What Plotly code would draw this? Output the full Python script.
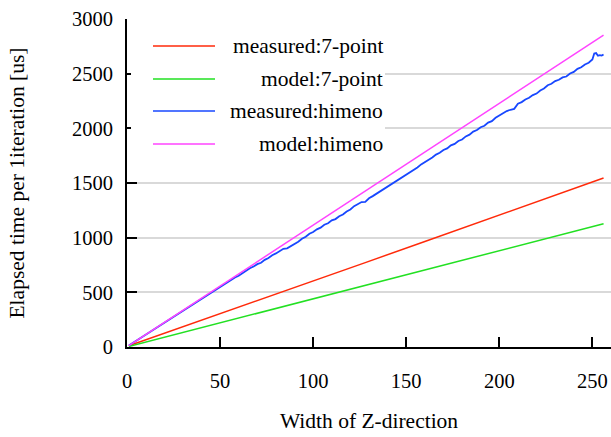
import plotly.graph_objects as go

# ---- data ----
meas7_x = [1, 32, 64, 96, 128, 160, 192, 224, 256]
meas7_y = [12, 196, 387, 580, 772, 965, 1160, 1352, 1545]

model7_x = [1, 64, 128, 192, 256]
model7_y = [5, 283, 565, 846, 1127]

measH_x = [1, 4, 8, 12, 16, 20, 24, 28, 32, 36, 40,
           42, 44, 46, 48, 50, 52, 54, 56, 58, 60, 62, 64, 66, 68, 70, 72, 74, 76, 78, 80,
           82, 84, 86, 88, 90, 92, 94, 96, 98, 100, 102, 104, 106, 108, 110, 112, 114, 116,
           118, 120, 122, 124, 126, 128, 130, 132, 134, 136, 138, 140, 142, 144, 146, 148,
           150, 152, 154, 156, 158, 160, 162, 164, 166, 168, 170, 172, 174, 176, 178, 180,
           182, 184, 186, 188, 190, 192, 194, 196, 198, 200, 202, 204, 206, 208, 210, 212,
           214, 216, 218, 220, 222, 224, 226, 228, 230, 232, 234, 236, 238, 240, 242, 244,
           246, 248, 250, 251, 252, 253, 254, 255, 256]
measH_y = [14, 46, 90, 134, 178, 221, 264, 309, 352, 396, 440,
           462, 482, 507, 526, 550, 569, 594, 614, 636, 652, 676, 694, 720, 736, 758, 770,
           797, 814, 840, 856, 880, 898, 903, 922, 944, 963, 990, 1008, 1036, 1052, 1076,
           1092, 1118, 1132, 1158, 1170, 1196, 1212, 1240, 1258, 1288, 1310, 1326, 1328,
           1360, 1380, 1402, 1418, 1446, 1464, 1492, 1508, 1536, 1552, 1580, 1598, 1624,
           1642, 1670, 1690, 1716, 1734, 1760, 1776, 1802, 1816, 1844, 1858, 1884, 1898,
           1926, 1942, 1970, 1984, 2010, 2024, 2052, 2066, 2096, 2116, 2142, 2158, 2170,
           2178, 2226, 2240, 2264, 2280, 2304, 2318, 2346, 2364, 2394, 2408, 2432, 2444,
           2466, 2474, 2502, 2516, 2544, 2558, 2584, 2600, 2630, 2684, 2688, 2664, 2670,
           2666, 2676]

modelH_x = [1, 64, 128, 192, 256]
modelH_y = [12, 714, 1427, 2140, 2852]

names = ["measured:7-point", "model:7-point", "measured:himeno", "model:himeno"]
colors = ["#ff2a0a", "#22e022", "#1747ff", "#ff44ff"]
widths = [1.5, 1.5, 1.8, 1.5]

x_ticks = [0, 50, 100, 150, 200, 250]
y_ticks = [0, 500, 1000, 1500, 2000, 2500, 3000]

# ---- figure ----
W, H = 611, 437
L, R, T, B = 127, 0, 19, 90
FONT = "Liberation Serif"
tickfont = dict(family=FONT, size=20.5, color="black")
titlefont = dict(family=FONT, size=21.5, color="black")

fig = go.Figure()
series = [(meas7_x, meas7_y), (model7_x, model7_y), (measH_x, measH_y), (modelH_x, modelH_y)]
for (xs, ys), n, c, w in zip(series, names, colors, widths):
    fig.add_trace(go.Scatter(x=xs, y=ys, mode="lines", name=n,
                             line=dict(color=c, width=w), showlegend=False))

pw, ph = W - L - R, H - T - B
def px(x):
    return (x - L) / pw
def py(y):
    return 1 - (y - T) / ph

shapes = [dict(type="rect", xref="paper", yref="paper", x0=px(131), x1=px(385),
               y0=py(162), y1=py(26), fillcolor="white", line=dict(width=0), layer="above")]
annotations = []
ys_leg = [46, 79, 111, 144]
for yy, n, c in zip(ys_leg, names, colors):
    shapes.append(dict(type="line", xref="paper", yref="paper", x0=px(153), x1=px(215),
                       y0=py(yy), y1=py(yy), line=dict(color=c, width=1.5), layer="above"))
    annotations.append(dict(xref="paper", yref="paper", x=px(385), y=py(yy), text=n,
                            showarrow=False, xanchor="right", yanchor="middle",
                            font=titlefont))

fig.update_layout(
    template="none",
    width=W, height=H,
    margin=dict(l=L, r=R, t=T, b=B, pad=0),
    plot_bgcolor="white", paper_bgcolor="white",
    font=dict(family=FONT, size=20.5, color="black"),
    shapes=shapes, annotations=annotations,
    xaxis=dict(range=[0, 260], tickvals=x_ticks, ticks="inside", ticklen=10, tickwidth=1.5,
               tickcolor="black", showline=True, linecolor="black", linewidth=2,
               showgrid=False, zeroline=False, ticklabelstandoff=14, tickfont=tickfont,
               title=dict(text="Width of Z-direction", font=titlefont, standoff=22)),
    yaxis=dict(range=[0, 3000], tickvals=y_ticks, ticks="inside", ticklen=10, tickwidth=1.5,
               tickcolor="black", showline=True, linecolor="black", linewidth=2,
               showgrid=True, gridcolor="#d9d9d9", gridwidth=1.5, zeroline=False,
               ticklabelstandoff=8, tickfont=tickfont,
               title=dict(text="Elapsed time per 1iteration [us]", font=titlefont, standoff=41)),
)

fig.write_html("out.html")
